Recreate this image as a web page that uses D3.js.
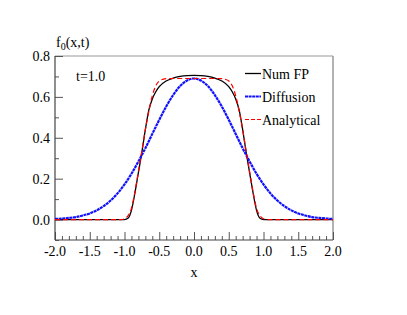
<!DOCTYPE html>
<html>
<head>
<meta charset="utf-8">
<script src="https://cdn.jsdelivr.net/npm/d3@7"></script>
<style>
    body { margin: 0; padding: 0; background: #fff; }
    svg text { font-family: "Liberation Serif", "DejaVu Serif", serif; fill: #000; }
</style>
</head>
<body>
<svg id="chart" width="407" height="315"></svg>
<script>
    // Num FP (black solid)
    var fpX = [-2.0, -1.5, -1.2, -1.0, -0.95, -0.9, -0.85, -0.8, -0.75, -0.7, -0.65, -0.6, -0.55, -0.5, -0.4, -0.3, -0.2, -0.1, 0.0,
               0.1, 0.2, 0.3, 0.4, 0.5, 0.55, 0.6, 0.65, 0.7, 0.75, 0.8, 0.85, 0.9, 0.95, 1.0, 1.2, 1.5, 2.0];
    var fpY = [0.0, 0.0, 0.0, 0.0, 0.006, 0.045, 0.13, 0.23, 0.33, 0.44, 0.535, 0.59, 0.625, 0.65, 0.678, 0.692, 0.70, 0.704, 0.705,
               0.704, 0.70, 0.692, 0.678, 0.65, 0.625, 0.59, 0.535, 0.44, 0.33, 0.23, 0.13, 0.045, 0.006, 0.0, 0.0, 0.0, 0.0];

    // Diffusion (blue)
    var diffX = [-2.0, -1.9, -1.8, -1.7, -1.6, -1.5, -1.4, -1.3, -1.2, -1.1, -1.0, -0.9, -0.8, -0.7, -0.6, -0.5, -0.4, -0.3, -0.2, -0.1, 0.0,
                 0.1, 0.2, 0.3, 0.4, 0.5, 0.6, 0.7, 0.8, 0.9, 1.0, 1.1, 1.2, 1.3, 1.4, 1.5, 1.6, 1.7, 1.8, 1.9, 2.0];
    var diffY = [0.003, 0.005, 0.008, 0.012, 0.020, 0.030, 0.045, 0.066, 0.093, 0.128, 0.172, 0.224, 0.284, 0.349, 0.419, 0.488, 0.553, 0.609, 0.653, 0.680, 0.690,
                 0.680, 0.653, 0.609, 0.553, 0.488, 0.419, 0.349, 0.284, 0.224, 0.172, 0.128, 0.093, 0.066, 0.045, 0.030, 0.020, 0.012, 0.008, 0.005, 0.003];

    // Analytical (red dashed)
    var anaX = [-2.0, -1.5, -1.2, -1.05, -1.0, -0.95, -0.9, -0.85, -0.8, -0.75, -0.7, -0.65, -0.6, -0.55, -0.5, -0.45, -0.4, -0.3, -0.2, -0.1, 0.0,
                0.1, 0.2, 0.3, 0.4, 0.45, 0.5, 0.55, 0.6, 0.65, 0.7, 0.75, 0.8, 0.85, 0.9, 0.95, 1.0, 1.05, 1.2, 1.5, 2.0];
    var anaY = [0.0, 0.0, 0.0, 0.0, 0.004, 0.018, 0.055, 0.135, 0.235, 0.335, 0.44, 0.53, 0.605, 0.655, 0.678, 0.686, 0.689, 0.69, 0.69, 0.69, 0.69,
                0.69, 0.69, 0.69, 0.689, 0.686, 0.678, 0.655, 0.605, 0.53, 0.44, 0.335, 0.235, 0.135, 0.055, 0.018, 0.004, 0.0, 0.0, 0.0, 0.0];

    var xMajor = [-2.0, -1.5, -1.0, -0.5, 0.0, 0.5, 1.0, 1.5, 2.0];
    var yMajor = [0.0, 0.2, 0.4, 0.6, 0.8];
    var legendNames = ["Num FP", "Diffusion", "Analytical"];

    var svg = d3.select("#chart");
    var padL = 55, padR = 333, padT = 56, padB = 240;

    var x = d3.scaleLinear().domain([-2, 2]).range([padL, padR]);
    var y = d3.scaleLinear().domain([-0.1, 0.8]).range([padB, padT]);

    // frame (top / right lighter)
    svg.append("line").attr("x1", padL).attr("x2", padR).attr("y1", padT).attr("y2", padT)
        .attr("stroke", "#999").attr("stroke-width", 1);
    svg.append("line").attr("x1", padR).attr("x2", padR).attr("y1", padT).attr("y2", padB)
        .attr("stroke", "#999").attr("stroke-width", 1.5);

    // x axis with ticks pointing up
    var xMinor = d3.range(-20, 21).map(function (i) { return i / 10; });
    var gx = svg.append("g").attr("transform", "translate(0," + padB + ")");
    gx.call(d3.axisTop(x).tickValues(xMinor).tickSize(4).tickFormat(""));
    gx.select(".domain").remove();
    gx.selectAll(".tick line")
        .attr("stroke", "#555")
        .attr("y2", function (d) { return xMajor.some(function (m) { return Math.abs(m - d) < 1e-6; }) ? -8 : -4; });
    svg.append("line").attr("x1", padL).attr("x2", padR).attr("y1", padB).attr("y2", padB)
        .attr("stroke", "#444").attr("stroke-width", 1.2);
    svg.selectAll(".xlab").data(xMajor).enter().append("text")
        .attr("x", function (d) { return x(d); })
        .attr("y", 256)
        .attr("text-anchor", "middle")
        .attr("font-size", 14)
        .text(function (d) { return d.toFixed(1); });

    // y axis with ticks pointing right
    var yMinor = d3.range(-1, 9).map(function (i) { return i / 10; });
    var gy = svg.append("g").attr("transform", "translate(" + padL + ",0)");
    gy.call(d3.axisRight(y).tickValues(yMinor).tickSize(4).tickFormat(""));
    gy.select(".domain").remove();
    gy.selectAll(".tick line")
        .attr("stroke", "#555")
        .attr("x2", function (d) { return yMajor.some(function (m) { return Math.abs(m - d) < 1e-6; }) ? 8 : 4; });
    svg.append("line").attr("x1", padL).attr("x2", padL).attr("y1", padT).attr("y2", padB)
        .attr("stroke", "#444").attr("stroke-width", 1.2);
    svg.selectAll(".ylab").data(yMajor).enter().append("text")
        .attr("x", 50)
        .attr("y", function (d) { return y(d) + 5; })
        .attr("text-anchor", "end")
        .attr("font-size", 14)
        .text(function (d) { return d.toFixed(1); });

    // titles
    var yt = svg.append("text").attr("x", 56).attr("y", 47).attr("font-size", 14);
    yt.append("tspan").text("f");
    yt.append("tspan").attr("dy", 3).attr("font-size", 10).text("0");
    yt.append("tspan").attr("dy", -3).text("(x,t)");
    svg.append("text").attr("x", x(0)).attr("y", 277).attr("text-anchor", "middle")
        .attr("font-size", 14).text("x");
    svg.append("text").attr("x", 76).attr("y", 81).attr("font-size", 14).text("t=1.0");

    // curves
    var line = d3.line()
        .x(function (d) { return x(d[0]); })
        .y(function (d) { return y(d[1]); })
        .curve(d3.curveMonotoneX);

    var series = [
        { pts: d3.zip(fpX, fpY), color: "#000", width: 1.3, dash: null },
        { pts: d3.zip(diffX, diffY), color: "#1010ff", width: 2.2, dash: "3,0.6" },
        { pts: d3.zip(anaX, anaY), color: "#ff0000", width: 1.2, dash: "5,3" }
    ];

    var plot = svg.append("g");
    series.forEach(function (s) {
        plot.append("path")
            .attr("d", line(s.pts))
            .attr("fill", "none")
            .attr("stroke", s.color)
            .attr("stroke-width", s.width)
            .attr("stroke-dasharray", s.dash);
    });

    // legend
    var legY = [73.5, 96.5, 119.5];
    legendNames.forEach(function (name, i) {
        var s = series[i];
        svg.append("line")
            .attr("x1", 245).attr("x2", 261)
            .attr("y1", legY[i]).attr("y2", legY[i])
            .attr("stroke", s.color)
            .attr("stroke-width", i === 2 ? 1 : s.width)
            .attr("stroke-dasharray", i === 2 ? "4,2" : s.dash);
        svg.append("text")
            .attr("x", 262).attr("y", legY[i] + 5)
            .attr("font-size", 14)
            .text(name);
    });
</script>
</body>
</html>
